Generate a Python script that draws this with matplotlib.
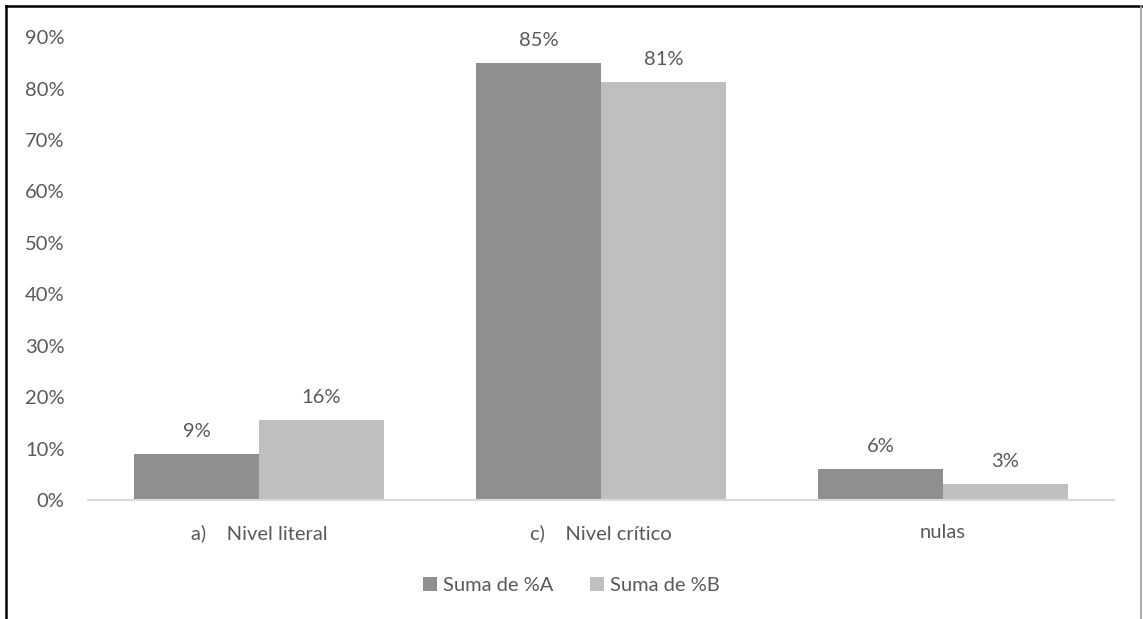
import numpy as np
import matplotlib.pyplot as plt
from matplotlib.lines import Line2D

plt.rcParams['font.family'] = ['Lato', 'DejaVu Sans']

categories = ['a)    Nivel literal', 'c)    Nivel crítico', 'nulas']
serie_a = [0.09, 0.85, 0.06]
serie_b = [0.156, 0.813, 0.031]
series_names = ['Suma de %A', 'Suma de %B']
colors = ['#8f8f8f', '#bfbfbf']
text_color = '#595959'

fig = plt.figure(figsize=(11.43, 6.19), dpi=100)
ax = fig.add_axes([0.077, 0.192, 0.8976, 0.748])

x = np.arange(len(categories))
w = 0.366
bars_a = ax.bar(x - w / 2, serie_a, w, color=colors[0], label=series_names[0])
bars_b = ax.bar(x + w / 2, serie_b, w, color=colors[1], label=series_names[1])

for bars, vals in [(bars_a, serie_a), (bars_b, serie_b)]:
    for b, v in zip(bars, vals):
        ax.annotate(f'{v * 100:.0f}%', (b.get_x() + b.get_width() / 2, v),
                    xytext=(0, 10), textcoords='offset points',
                    ha='center', va='bottom', fontsize=14.5, color=text_color)

ax.set_xlim(-0.5, 2.5)
ax.set_ylim(0, 0.9)
ax.set_yticks(np.arange(0, 0.91, 0.1))
ax.set_yticklabels([f'{int(round(t * 100))}%' for t in np.arange(0, 0.91, 0.1)])
ax.set_xticks(x)
ax.set_xticklabels(categories)
ax.tick_params(axis='y', length=0, pad=17, labelsize=14.5, labelcolor=text_color)
ax.tick_params(axis='x', length=0, pad=17, labelsize=14.5, labelcolor=text_color)
for s in ['top', 'right', 'left']:
    ax.spines[s].set_visible(False)
ax.spines['bottom'].set_color('#d9d9d9')
ax.spines['bottom'].set_linewidth(1.5)

leg = fig.legend(loc='center', bbox_to_anchor=(0.5, 0.054), ncol=2, frameon=False,
                 fontsize=14.5, handlelength=0.7, handleheight=0.7,
                 handletextpad=0.3, columnspacing=1.8)
for t in leg.get_texts():
    t.set_color(text_color)

# outer frame
W, H = 1143, 619
fig.add_artist(Line2D([6 / W, 1142 / W], [1 - 6 / H, 1 - 6 / H], color='black', lw=1.8))
fig.add_artist(Line2D([6 / W, 6 / W], [1 - 6 / H, 0], color='black', lw=1.8))
fig.add_artist(Line2D([1141 / W, 1141 / W], [1 - 6 / H, 0], color='#a0a0a0', lw=1.2))

fig.savefig('out.png', dpi=100)
